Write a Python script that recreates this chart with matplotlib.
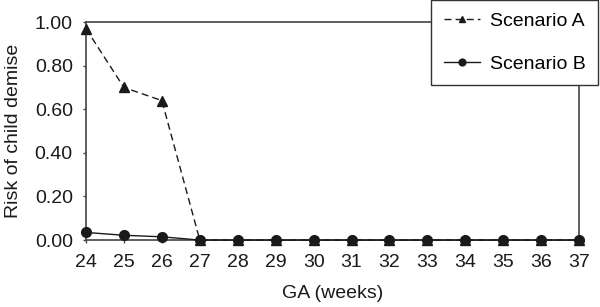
import matplotlib
matplotlib.use("Agg")
import matplotlib.pyplot as plt

plt.rcParams['font.family'] = ['Liberation Sans', 'DejaVu Sans']

ga_weeks = [24, 25, 26, 27, 28, 29, 30, 31, 32, 33, 34, 35, 36, 37]
scenario_a = [0.97, 0.70, 0.64, 0, 0, 0, 0, 0, 0, 0, 0, 0, 0, 0]
scenario_b = [0.035, 0.022, 0.015, 0, 0, 0, 0, 0, 0, 0, 0, 0, 0, 0]
y_ticks = [0.0, 0.2, 0.4, 0.6, 0.8, 1.0]
y_labels = ["0.00", "0.20", "0.40", "0.60", "0.80", "1.00"]

fig = plt.figure(figsize=(6, 3.07), dpi=100)
ax = fig.add_axes([0.1433, 0.218, 0.822, 0.71])
col = "#1a1a1a"
ax.plot(ga_weeks, scenario_a, linestyle=(0, (5, 3)), color=col, lw=1.0,
        marker="^", markersize=7, label="Scenario A", clip_on=False, zorder=3)
ax.plot(ga_weeks, scenario_b, linestyle="-", color=col, lw=1.0,
        marker="o", markersize=7, label="Scenario B", clip_on=False, zorder=3)
ax.set_xlim(24, 37)
ax.set_ylim(0, 1.0)
ax.set_xticks(ga_weeks)
ax.set_xticklabels([str(w) for w in ga_weeks], fontsize=14)
ax.set_yticks(y_ticks)
ax.set_yticklabels(y_labels, fontsize=14)
for s in ax.spines.values():
    s.set_color("#444444")
    s.set_linewidth(1.2)
ax.tick_params(axis="both", direction="out", length=2.5, width=1, color="#444444",
               labelcolor="#1a1a1a")
ax.tick_params(axis="x", pad=7.5)
ax.tick_params(axis="y", pad=7)
ax.set_xlabel("GA (weeks)", fontsize=14, color="#1a1a1a", labelpad=10)
ax.set_ylabel("Risk of child demise", fontsize=14, color="#1a1a1a", labelpad=9)

leg = fig.legend(loc="upper right", bbox_to_anchor=(0.997, 1.0), fontsize=14,
                 frameon=True, fancybox=False, edgecolor="#333333",
                 handlelength=1.85, handletextpad=0.5, labelspacing=1.27,
                 borderpad=0.65, borderaxespad=0.0,
                 markerscale=0.7, framealpha=1)
leg.get_frame().set_linewidth(1.0)

fig.savefig("out.png", dpi=100)
